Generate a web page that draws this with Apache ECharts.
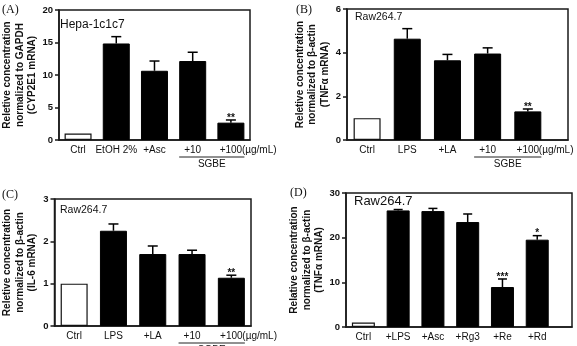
<!DOCTYPE html>
<html lang="en">
<head>
    <meta charset="UTF-8"/>
    <title>mRNA panels</title>
    <script src="https://cdn.jsdelivr.net/npm/echarts@6/dist/echarts.min.js"></script>
    <style>html, body {margin: 0; padding: 0; background: #fff;}</style>
</head>
<body>
<div id="main" style="width:577px;height:346px"></div>
<script type="text/javascript">
    // (A) Hepa-1c1c7, CYP2E1 mRNA
    var catsA = ['Ctrl', 'EtOH 2%', '+Asc', '+10', '+100'];
    var meanA = [1.0, 14.85, 10.65, 12.15, 2.67];
    var semA = [0, 1.05, 1.5, 1.35, 0.41];
    var starsA = ['', '', '', '', '**'];
    var yTicksA = {min: 0, max: 20, interval: 5};

    // (B) Raw264.7, TNFa mRNA
    var catsB = ['Ctrl', 'LPS', '+LA', '+10', '+100'];
    var meanB = [1.0, 4.64, 3.65, 3.96, 1.31];
    var semB = [0, 0.46, 0.27, 0.26, 0.11];
    var starsB = ['', '', '', '', '**'];
    var yTicksB = {min: 0, max: 6, interval: 2};

    // (C) Raw264.7, IL-6 mRNA
    var catsC = ['Ctrl', 'LPS', '+LA', '+10', '+100'];
    var meanC = [1.0, 2.25, 1.70, 1.70, 1.14];
    var semC = [0, 0.16, 0.19, 0.09, 0.06];
    var starsC = ['', '', '', '', '**'];
    var yTicksC = {min: 0, max: 3, interval: 1};

    // (D) Raw264.7, TNFa mRNA (ginsenosides)
    var catsD = ['Ctrl', '+LPS', '+Asc', '+Rg3', '+Re', '+Rd'];
    var meanD = [1.0, 26.1, 25.95, 23.5, 8.95, 19.55];
    var semD = [0, 0.2, 0.6, 1.8, 1.8, 0.9];
    var starsD = ['', '', '', '', '***', '*'];
    var yTicksD = {min: 0, max: 30, interval: 10};

    var panels = [
        {cats: catsA, mean: meanA, sem: semA, stars: starsA, ticks: yTicksA, sgbe: true,
            letter: '(A)', title: 'Hepa-1c1c7',
            yName: 'Reletive concentration\nnormalized to GAPDH\n(CYP2E1 mRNA)'},
        {cats: catsB, mean: meanB, sem: semB, stars: starsB, ticks: yTicksB, sgbe: true,
            letter: '(B)', title: 'Raw264.7',
            yName: 'Reletive concentration\nnormalized to \u03b2-actin\n(TNF\u03b1 mRNA)'},
        {cats: catsC, mean: meanC, sem: semC, stars: starsC, ticks: yTicksC, sgbe: true,
            letter: '(C)', title: 'Raw264.7',
            yName: 'Reletive concentration\nnormalized to \u03b2-actin\n(IL-6 mRNA)'},
        {cats: catsD, mean: meanD, sem: semD, stars: starsD, ticks: yTicksD, sgbe: false,
            letter: '(D)', title: 'Raw264.7',
            yName: 'Relative concentration\nnormalized to \u03b2-actin\n(TNF\u03b1 mRNA)'}
    ];

    // layout of each panel (pixels)
    var layouts = [
        {left: 52, top: 10, width: 198, height: 130, xMax: 10, barW: 27, cap: 10, titleSize: 12, titleDy: 9, lx: 2, ly: 4},
        {left: 347, top: 9, width: 221, height: 131, xMax: 11, barW: 27, cap: 10, titleSize: 10.5, titleDy: 3, lx: 296, ly: 4},
        {left: 52, top: 199, width: 199, height: 127, xMax: 10, barW: 27, cap: 10, titleSize: 10.5, titleDy: 6, lx: 2, ly: 189},
        {left: 346, top: 193, width: 226, height: 134, xMax: 13, barW: 23, cap: 9, titleSize: 13, titleDy: 2, lx: 290, ly: 187}
    ];

    var FONT = 'Arial, "Liberation Sans", sans-serif';
    var SERIF = '"Times New Roman", "Liberation Serif", serif';

    var myChart = echarts.init(document.getElementById('main'), null, {renderer: 'canvas'});

    var grids = [], xAxes = [], yAxes = [], series = [], graphics = [];

    panels.forEach(function (p, k) {
        var L = layouts[k];
        grids.push({
            left: L.left, top: L.top, width: L.width, height: L.height,
            show: true, borderColor: '#1a1a1a', borderWidth: 1.5, backgroundColor: 'transparent'
        });
        xAxes.push({
            type: 'value', gridIndex: k, min: 0, max: L.xMax, interval: 1,
            axisLine: {show: true, lineStyle: {color: '#1a1a1a', width: 1.5}},
            axisTick: {show: false},
            splitLine: {show: false},
            axisLabel: {
                margin: 5, color: '#111', fontSize: 10, fontFamily: FONT,
                showMinLabel: true, showMaxLabel: true,
                formatter: (function (cats) {
                    return function (v) {
                        var i = (v - 1) / 2;
                        return (i >= 0 && i % 1 === 0 && cats[i]) ? cats[i] : '';
                    };
                })(p.cats)
            }
        });
        yAxes.push({
            type: 'value', gridIndex: k,
            min: p.ticks.min, max: p.ticks.max, interval: p.ticks.interval,
            axisLine: {show: true, lineStyle: {color: '#1a1a1a', width: 1.5}},
            axisTick: {show: true, length: 4, lineStyle: {color: '#1a1a1a', width: 1.5}},
            splitLine: {show: false},
            axisLabel: {margin: 6, color: '#111', fontSize: 9.5, fontWeight: 'bold', fontFamily: FONT},
            name: p.yName, nameLocation: 'middle', nameRotate: 90, nameGap: 16,
            nameTextStyle: {color: '#111', fontSize: 10, fontWeight: 'bold', fontFamily: FONT, lineHeight: 12.5}
        });
        series.push({
            type: 'bar', xAxisIndex: k, yAxisIndex: k, barWidth: L.barW,
            data: p.mean.map(function (v, i) {
                return {
                    value: [2 * i + 1, v],
                    itemStyle: i === 0 ? {color: '#fff', borderColor: '#111', borderWidth: 1.2}
                        : {color: '#000', borderColor: '#000', borderWidth: 1}
                };
            }),
            animation: false
        });
        series.push({
            type: 'custom', xAxisIndex: k, yAxisIndex: k, clip: false, z: 5,
            data: p.mean.map(function (v, i) { return [2 * i + 1, v, v + p.sem[i]]; }),
            renderItem: (function (stars, capW) {
                return function (params, api) {
                    var x = api.value(0), lo = api.value(1), hi = api.value(2);
                    var p0 = api.coord([x, lo]), p1 = api.coord([x, hi]);
                    var st = {stroke: '#000', lineWidth: 1.5};
                    var ch = [];
                    if (hi > lo) {
                        ch.push({type: 'line', shape: {x1: p0[0], y1: p0[1], x2: p1[0], y2: p1[1]}, style: st});
                        ch.push({type: 'line', shape: {x1: p1[0] - capW / 2, y1: p1[1], x2: p1[0] + capW / 2, y2: p1[1]}, style: st});
                    }
                    var s = stars[params.dataIndex];
                    if (s) {
                        ch.push({
                            type: 'text',
                            style: {
                                text: s, x: p1[0], y: p1[1] + 3, align: 'center', verticalAlign: 'bottom',
                                font: 'bold 10px ' + FONT, fill: '#111'
                            }
                        });
                    }
                    return {type: 'group', children: ch};
                };
            })(p.stars, L.cap),
            animation: false
        });

        graphics.push({
            type: 'text', left: L.lx, top: L.ly,
            style: {text: p.letter, font: '12px ' + SERIF, fill: '#111'}
        });
        graphics.push({
            type: 'text', left: L.left + 8, top: L.top + L.titleDy,
            style: {text: p.title, font: L.titleSize + 'px ' + FONT, fill: '#111'}
        });
    });

    option = {
        backgroundColor: '#fff',
        animation: false,
        grid: grids,
        xAxis: xAxes,
        yAxis: yAxes,
        series: series,
        graphic: graphics
    };
    myChart.setOption(option);

    // SGBE bracket and unit text, placed from the axis scales
    var extra = [];
    panels.forEach(function (p, k) {
        var L = layouts[k];
        var n = p.cats.length;
        var yb = L.top + L.height;
        if (!p.sgbe) return;
        var cLast = myChart.convertToPixel({gridIndex: k}, [2 * (n - 1) + 1, 0]);
        var cPrev = myChart.convertToPixel({gridIndex: k}, [2 * (n - 2) + 1, 0]);
        extra.push({
            type: 'text', left: cLast[0] + 11, top: yb + 5,
            style: {text: '(\u00b5g/mL)', font: '10px ' + FONT, fill: '#111'}
        });
        extra.push({
            type: 'line',
            shape: {x1: cPrev[0] - L.barW / 2, y1: yb + 17, x2: cLast[0] + L.barW / 2, y2: yb + 17},
            style: {stroke: '#222', lineWidth: 1}
        });
        extra.push({
            type: 'text', x: (cPrev[0] + cLast[0]) / 2, y: yb + 19,
            style: {text: 'SGBE', font: '10px ' + FONT, fill: '#111', align: 'center', verticalAlign: 'top'}
        });
    });
    myChart.setOption({graphic: graphics.concat(extra)});
</script>
</body>
</html>
